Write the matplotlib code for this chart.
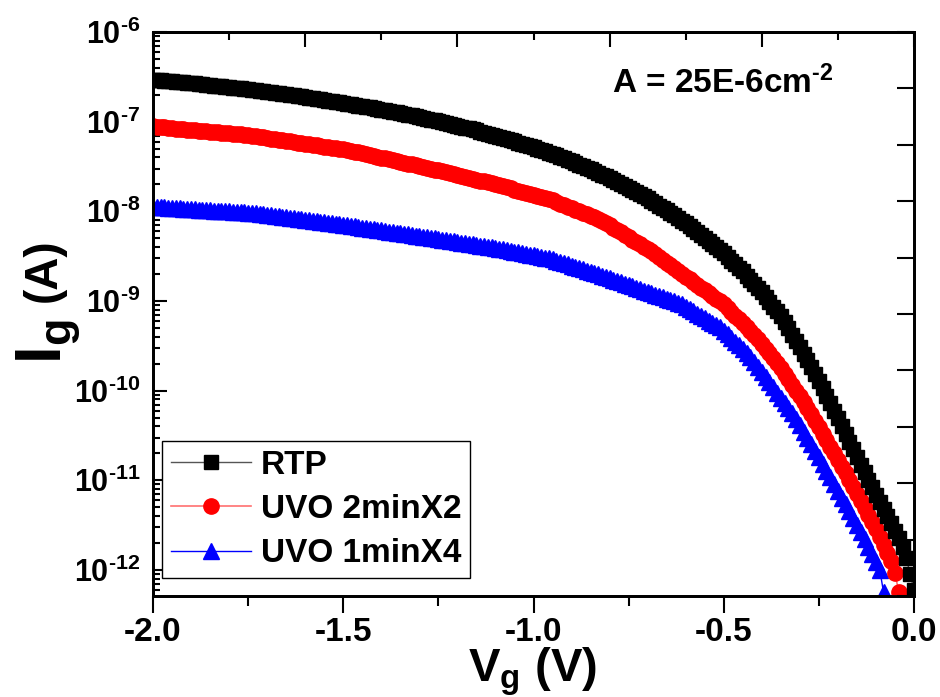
import numpy as np
import matplotlib
matplotlib.use("Agg")
import matplotlib.pyplot as plt
from matplotlib.ticker import (FixedLocator, LogLocator, MultipleLocator,
                               FuncFormatter, NullFormatter)

VG_START, VG_STOP, VG_N = -2.0, 0.0, 201      # 10 mV steps

log_ig_rtp = [
    -6.530, -6.534, -6.538, -6.542, -6.546, -6.550, -6.554, -6.558, -6.562, -6.566,
    -6.570, -6.574, -6.579, -6.583, -6.588, -6.592, -6.597, -6.601, -6.606, -6.610,
    -6.615, -6.620, -6.625, -6.630, -6.635, -6.640, -6.645, -6.651, -6.656, -6.662,
    -6.667, -6.673, -6.678, -6.684, -6.689, -6.695, -6.701, -6.707, -6.713, -6.719,
    -6.725, -6.731, -6.738, -6.744, -6.751, -6.757, -6.764, -6.770, -6.777, -6.784,
    -6.791, -6.798, -6.805, -6.813, -6.820, -6.827, -6.835, -6.842, -6.850, -6.857,
    -6.865, -6.873, -6.881, -6.889, -6.897, -6.905, -6.914, -6.922, -6.931, -6.939,
    -6.948, -6.957, -6.966, -6.976, -6.985, -6.994, -7.004, -7.014, -7.024, -7.034,
    -7.044, -7.055, -7.066, -7.076, -7.087, -7.098, -7.110, -7.121, -7.133, -7.144,
    -7.156, -7.169, -7.181, -7.194, -7.206, -7.219, -7.233, -7.246, -7.260, -7.273,
    -7.287, -7.302, -7.317, -7.331, -7.346, -7.361, -7.377, -7.393, -7.410, -7.426,
    -7.442, -7.460, -7.478, -7.495, -7.513, -7.531, -7.551, -7.570, -7.590, -7.609,
    -7.629, -7.651, -7.672, -7.694, -7.715, -7.737, -7.761, -7.785, -7.808, -7.832,
    -7.856, -7.882, -7.908, -7.935, -7.961, -7.987, -8.016, -8.045, -8.074, -8.103,
    -8.132, -8.164, -8.196, -8.228, -8.260, -8.292, -8.328, -8.363, -8.399, -8.434,
    -8.470, -8.510, -8.550, -8.590, -8.630, -8.670, -8.716, -8.762, -8.808, -8.854,
    -8.900, -8.954, -9.008, -9.062, -9.116, -9.170, -9.238, -9.306, -9.374, -9.442,
    -9.510, -9.586, -9.662, -9.738, -9.814, -9.890, -9.974, -10.058, -10.142, -10.226,
    -10.310, -10.396, -10.482, -10.568, -10.654, -10.740, -10.824, -10.908, -10.992, -11.076,
    -11.160, -11.240, -11.320, -11.400, -11.480, -11.560, -11.640, -11.740, -11.870, -12.050,
    -12.220,
]

log_ig_uvo2 = [
    -7.053, -7.057, -7.061, -7.065, -7.069, -7.073, -7.077, -7.080, -7.084, -7.088,
    -7.092, -7.096, -7.100, -7.104, -7.108, -7.112, -7.116, -7.120, -7.124, -7.127,
    -7.131, -7.135, -7.139, -7.143, -7.147, -7.151, -7.156, -7.163, -7.169, -7.175,
    -7.182, -7.188, -7.195, -7.201, -7.207, -7.214, -7.220, -7.227, -7.233, -7.239,
    -7.246, -7.252, -7.258, -7.265, -7.271, -7.278, -7.284, -7.290, -7.297, -7.303,
    -7.310, -7.316, -7.323, -7.333, -7.342, -7.352, -7.361, -7.371, -7.381, -7.390,
    -7.400, -7.410, -7.419, -7.429, -7.438, -7.448, -7.458, -7.467, -7.477, -7.486,
    -7.496, -7.506, -7.515, -7.525, -7.534, -7.544, -7.554, -7.563, -7.573, -7.583,
    -7.594, -7.604, -7.615, -7.625, -7.636, -7.646, -7.657, -7.667, -7.678, -7.688,
    -7.699, -7.710, -7.721, -7.733, -7.745, -7.757, -7.769, -7.781, -7.793, -7.805,
    -7.817, -7.828, -7.840, -7.852, -7.864, -7.879, -7.896, -7.913, -7.930, -7.947,
    -7.964, -7.982, -7.999, -8.016, -8.033, -8.050, -8.068, -8.085, -8.105, -8.132,
    -8.158, -8.184, -8.210, -8.236, -8.262, -8.288, -8.315, -8.341, -8.367, -8.393,
    -8.419, -8.446, -8.478, -8.509, -8.540, -8.572, -8.603, -8.635, -8.666, -8.697,
    -8.728, -8.759, -8.789, -8.820, -8.851, -8.881, -8.912, -8.943, -8.974, -9.004,
    -9.035, -9.078, -9.120, -9.163, -9.206, -9.248, -9.291, -9.334, -9.377, -9.419,
    -9.475, -9.530, -9.585, -9.640, -9.695, -9.750, -9.812, -9.875, -9.937, -10.000,
    -10.062, -10.124, -10.194, -10.265, -10.336, -10.407, -10.479, -10.552, -10.625, -10.699,
    -10.772, -10.846, -10.921, -10.998, -11.075, -11.153, -11.230, -11.307, -11.384, -11.461,
    -11.544, -11.633, -11.721, -11.810, -11.900, -12.030, -12.250,
]

log_ig_uvo1 = [
    -7.948, -7.951, -7.953, -7.956, -7.959, -7.961, -7.964, -7.967, -7.969, -7.972,
    -7.975, -7.977, -7.980, -7.983, -7.985, -7.988, -7.991, -7.993, -7.996, -7.999,
    -8.001, -8.004, -8.007, -8.009, -8.012, -8.015, -8.019, -8.024, -8.030, -8.035,
    -8.041, -8.046, -8.052, -8.057, -8.063, -8.068, -8.074, -8.079, -8.085, -8.090,
    -8.096, -8.101, -8.107, -8.112, -8.118, -8.123, -8.129, -8.134, -8.140, -8.145,
    -8.151, -8.156, -8.162, -8.169, -8.175, -8.181, -8.188, -8.194, -8.200, -8.207,
    -8.213, -8.220, -8.226, -8.232, -8.239, -8.245, -8.251, -8.258, -8.264, -8.270,
    -8.277, -8.283, -8.290, -8.296, -8.302, -8.309, -8.315, -8.321, -8.328, -8.334,
    -8.341, -8.348, -8.355, -8.362, -8.369, -8.376, -8.383, -8.389, -8.396, -8.403,
    -8.410, -8.417, -8.425, -8.433, -8.442, -8.450, -8.459, -8.467, -8.476, -8.484,
    -8.492, -8.501, -8.509, -8.518, -8.526, -8.537, -8.551, -8.564, -8.578, -8.592,
    -8.606, -8.619, -8.633, -8.647, -8.661, -8.674, -8.688, -8.702, -8.716, -8.731,
    -8.746, -8.762, -8.777, -8.792, -8.807, -8.822, -8.837, -8.852, -8.868, -8.883,
    -8.898, -8.913, -8.928, -8.943, -8.959, -8.974, -8.989, -9.004, -9.019, -9.038,
    -9.063, -9.089, -9.115, -9.140, -9.166, -9.192, -9.218, -9.243, -9.269, -9.295,
    -9.333, -9.373, -9.414, -9.455, -9.496, -9.537, -9.578, -9.629, -9.685, -9.740,
    -9.796, -9.852, -9.908, -9.964, -10.021, -10.077, -10.134, -10.191, -10.247, -10.313,
    -10.385, -10.456, -10.528, -10.600, -10.672, -10.745, -10.818, -10.892, -10.965, -11.041,
    -11.117, -11.193, -11.269, -11.345, -11.421, -11.497, -11.573, -11.656, -11.741, -11.826,
    -11.910, -11.995, -12.250,
]

LABELS = ["RTP", "UVO 2minX2", "UVO 1minX4"]
X_TICKS = [-2.0, -1.5, -1.0, -0.5, 0.0]

plt.rcParams.update({
    "font.family": ["Liberation Sans", "DejaVu Sans"],
    "font.weight": "bold",
    "axes.unicode_minus": False,
    "mathtext.fontset": "custom",
    "mathtext.rm": "Liberation Sans:bold",
    "mathtext.it": "Liberation Sans:bold",
    "mathtext.bf": "Liberation Sans:bold",
    "mathtext.default": "bf",
    "axes.linewidth": 2.0,
})

vg = np.linspace(VG_START, VG_STOP, VG_N)
ig_rtp = 10.0 ** np.array(log_ig_rtp)
ig_uvo2 = 10.0 ** np.array(log_ig_uvo2)
ig_uvo1 = 10.0 ** np.array(log_ig_uvo1)


def decade_label(v, pos):
    # hyphen (not a math minus) in the exponent, as in the original
    return r"$10^{\text{-%d}}$" % abs(round(np.log10(v)))


fig = plt.figure(figsize=(9.4, 6.97), dpi=100)
ax = fig.add_axes([153 / 940, 1 - 596 / 697, 761 / 940, 564 / 697])

# blue first, red over it, black on top
h3, = ax.plot(vg[:len(ig_uvo1)], ig_uvo1, color="#0000ff", lw=1, marker="^",
              ms=12, mfc="#0000ff", mec="#0000ff", zorder=2)
h2, = ax.plot(vg[:len(ig_uvo2)], ig_uvo2, color="#ff7070", lw=1.2, marker="o",
              ms=11, mfc="#ff0000", mec="#ff0000", zorder=3)
h1, = ax.plot(vg, ig_rtp, color="#555555", lw=1, marker="s",
              ms=10, mfc="black", mec="black", zorder=4)

ax.set_yscale("log")
ax.set_xlim(-2.0, 0.0)
ax.set_ylim(10 ** -12.29, 1e-6)

# left / bottom ticks
ax.yaxis.set_major_locator(LogLocator(base=10, numticks=20))
ax.yaxis.set_minor_locator(LogLocator(base=10, subs=np.arange(2, 10), numticks=20))
ax.yaxis.set_major_formatter(FuncFormatter(decade_label))
ax.yaxis.set_minor_formatter(NullFormatter())
ax.xaxis.set_major_locator(FixedLocator(X_TICKS))
ax.xaxis.set_minor_locator(MultipleLocator(0.25))
ax.xaxis.set_major_formatter(FuncFormatter(lambda v, p: f"{v:.1f}"))
ax.tick_params(axis="y", which="major", direction="in", length=10, width=1.5,
               labelsize=22, pad=9)
ax.tick_params(axis="y", which="minor", direction="in", length=5, width=1.5)
ax.tick_params(axis="x", which="major", direction="out", length=12, width=1.5,
               labelsize=24, pad=3)
ax.tick_params(axis="x", which="minor", direction="out", length=7, width=1.5)

# top and right axes carry their own (unlabelled) tick sets
top = ax.secondary_xaxis("top")
top.xaxis.set_major_locator(FixedLocator([-2.0, -1.6, -1.2, -0.8, -0.4, 0.0]))
top.xaxis.set_minor_locator(FixedLocator([-1.8, -1.4, -1.0, -0.6, -0.2]))
top.tick_params(which="major", direction="in", length=11, width=1.5, labeltop=False)
top.tick_params(which="minor", direction="in", length=6, width=1.5)

right = ax.twinx()
right.set_ylim(0, 10)
right.yaxis.set_major_locator(MultipleLocator(1))
right.tick_params(direction="in", length=12, width=1.5, labelright=False)

leg = ax.legend([h1, h2, h3], LABELS, loc="lower left",
                bbox_to_anchor=(9 / 761, 18 / 564), borderaxespad=0,
                fontsize=24, frameon=True, fancybox=False, framealpha=1,
                edgecolor="black", handlelength=2.4, handletextpad=0.3,
                labelspacing=0.4, borderpad=0.26, markerscale=1.0)
leg.get_frame().set_linewidth(1.0)

fig.text(612 / 940, 1 - 93 / 697, r"A = 25E-6cm$^{\text{-2}}$", fontsize=24,
         fontweight="bold", ha="left", va="baseline")

# y label: the "I" is set larger than the unit, as in the original
fig.text(62 / 940, 1 - 364 / 697, r"I$_g$", fontsize=46, fontweight="bold",
         rotation=90, rotation_mode="anchor", ha="left", va="baseline")
fig.text(56 / 940, 1 - 302 / 697, "(A)", fontsize=33, fontweight="bold",
         rotation=90, rotation_mode="anchor", ha="left", va="baseline")
fig.text(533 / 940, 1 - 672 / 697, r"V$_g$ (V)", fontsize=34, fontweight="bold",
         ha="center", va="center")

fig.savefig("out.png", dpi=100)
